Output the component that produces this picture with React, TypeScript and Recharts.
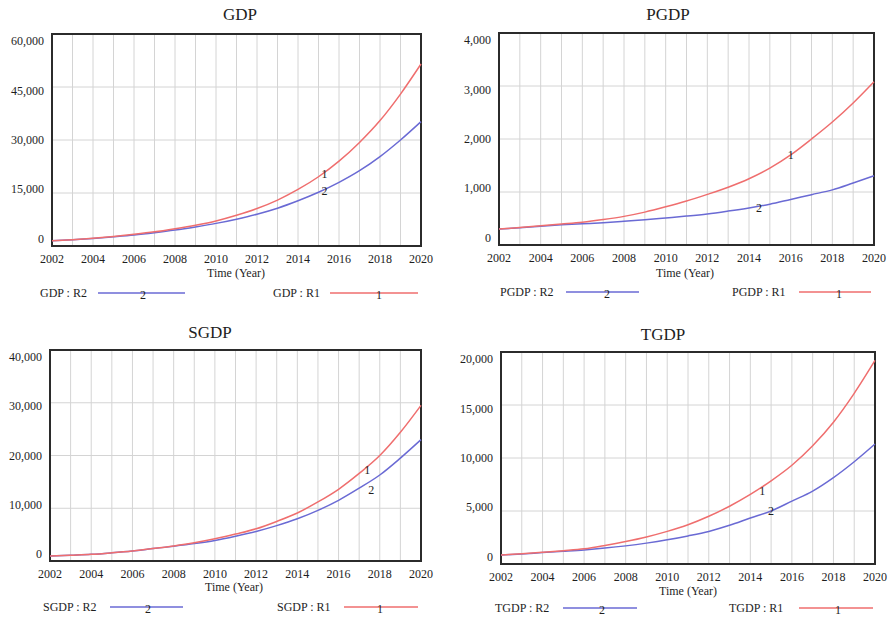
import { LineChart, Line, XAxis, YAxis, CartesianGrid, ReferenceArea, LabelList } from "recharts";

const years = [2002, 2003, 2004, 2005, 2006, 2007, 2008, 2009, 2010, 2011, 2012, 2013, 2014, 2015, 2016, 2017, 2018, 2019, 2020];

const gdpR1 = [1500, 1800, 2200, 2700, 3300, 4000, 4900, 5900, 7100, 8700, 10600, 13000, 16000, 19600, 24000, 29300, 35500, 43000, 51500];
const gdpR2 = [1500, 1800, 2150, 2600, 3100, 3750, 4500, 5400, 6400, 7600, 9000, 10700, 12800, 15200, 18000, 21300, 25300, 30000, 35200];

const pgdpR1 = [300, 330, 362, 395, 430, 480, 540, 620, 720, 830, 955, 1090, 1250, 1450, 1700, 2000, 2320, 2680, 3080];
const pgdpR2 = [300, 325, 355, 380, 400, 420, 446, 475, 510, 545, 586, 640, 700, 770, 860, 950, 1040, 1170, 1306];

const sgdpR1 = [950, 1100, 1260, 1550, 1900, 2350, 2850, 3450, 4200, 5100, 6100, 7500, 9100, 11200, 13600, 16600, 20000, 24400, 29500];
const sgdpR2 = [950, 1100, 1260, 1550, 1900, 2350, 2800, 3300, 3900, 4700, 5600, 6700, 8000, 9600, 11500, 13800, 16300, 19500, 23000];

const tgdpR1 = [850, 960, 1100, 1250, 1430, 1750, 2120, 2550, 3075, 3700, 4500, 5450, 6560, 7850, 9320, 11160, 13380, 16100, 19200];
const tgdpR2 = [850, 950, 1080, 1200, 1330, 1500, 1710, 1970, 2280, 2650, 3075, 3650, 4340, 5000, 5930, 6880, 8150, 9650, 11320];

const gdpTicks = [0, 15000, 30000, 45000, 60000];
const pgdpTicks = [0, 1000, 2000, 3000, 4000];
const sgdpTicks = [0, 10000, 20000, 30000, 40000];
const tgdpTicks = [0, 5000, 10000, 15000, 20000];

const RED = "#ef6e6e";
const BLUE = "#6a6ad4";
const FONT = "'Liberation Serif', 'Times New Roman', serif";
const TEXT = "#1e1e1e";

type Mark = { idx: number; dx: number; dy: number };

type PanelProps = {
  title: string;
  r1: number[];
  r2: number[];
  yTicks: number[];
  ox: number;
  oy: number;
  plot: { l: number; t: number; r: number; b: number };
  titlePos: [number, number];
  axisPos: [number, number];
  legendY: number;
  leg2: [number, number, number, number]; // text left, line x1, line x2, digit x
  leg1: [number, number, number, number];
  mark1: Mark;
  mark2: Mark;
};

function LegendItem({ name, y, pos, color, num }: { name: string; y: number; pos: number[]; color: string; num: string }) {
  const [tx, x1, x2, dx] = pos;
  return (
    <>
      <div style={{ position: "absolute", left: tx, top: y - 8, fontFamily: FONT, fontSize: 12, color: TEXT, lineHeight: "16px", whiteSpace: "nowrap" }}>
        {name}
      </div>
      <svg style={{ position: "absolute", left: x1, top: y - 8, overflow: "visible" }} width={x2 - x1} height={16}>
        <line x1={0} y1={8} x2={x2 - x1} y2={8} stroke={color} strokeWidth={1.5} />
        <text x={dx - x1} y={10} textAnchor="middle" dominantBaseline="central" fontFamily={FONT} fontSize={12} fill={TEXT}>
          {num}
        </text>
      </svg>
    </>
  );
}

function Panel(p: PanelProps) {
  const W = 446;
  const H = 309;
  const yw = 48;
  const xh = 26;
  const data = years.map((y, i) => ({ year: y, r1: p.r1[i], r2: p.r2[i] }));
  const margin = {
    left: p.plot.l - p.ox - yw,
    right: p.ox + W - p.plot.r,
    top: p.plot.t - p.oy,
    bottom: p.oy + H - p.plot.b - xh,
  };
  const yMax = p.yTicks[p.yTicks.length - 1];
  const mid = (p.plot.t + p.plot.b) / 2 - p.oy;

  const yTick = (t: any) => (
    <text x={t.x} y={t.y + (mid - t.y) * 0.07} textAnchor="end" dominantBaseline="central" fontFamily={FONT} fontSize={12} fill={TEXT}>
      {Number(t.payload.value).toLocaleString("en-US")}
    </text>
  );
  const xTick = (t: any) =>
    t.payload.value % 2 === 0 ? (
      <text x={t.x} y={t.y + 5} textAnchor="middle" dominantBaseline="central" fontFamily={FONT} fontSize={12} fill={TEXT}>
        {t.payload.value}
      </text>
    ) : (
      <g />
    );

  const markLabel = (series: number[], m: Mark, num: string) => (props: any) => {
    if (props.value !== series[m.idx]) return null;
    return (
      <text x={props.x + m.dx} y={props.y + m.dy} textAnchor="middle" dominantBaseline="central" fontFamily={FONT} fontSize={12} fill={TEXT}>
        {num}
      </text>
    );
  };

  return (
    <>
      <div style={{ position: "absolute", left: p.ox, top: p.oy }}>
        <LineChart width={W} height={H} data={data} margin={margin}>
          <CartesianGrid stroke="#d4d4d4" strokeWidth={1} />
          <XAxis
            dataKey="year"
            type="number"
            domain={[2002, 2020]}
            ticks={years}
            interval={0}
            tick={xTick}
            tickLine={false}
            axisLine={false}
            height={xh}
          />
          <YAxis
            type="number"
            domain={[0, yMax]}
            ticks={p.yTicks}
            interval={0}
            tick={yTick}
            tickLine={false}
            axisLine={false}
            width={yw}
          />
          <Line type="monotone" dataKey="r2" stroke={BLUE} strokeWidth={1.5} dot={false} isAnimationActive={false}>
            <LabelList dataKey="r2" content={markLabel(p.r2, p.mark2, "2")} />
          </Line>
          <Line type="monotone" dataKey="r1" stroke={RED} strokeWidth={1.5} dot={false} isAnimationActive={false}>
            <LabelList dataKey="r1" content={markLabel(p.r1, p.mark1, "1")} />
          </Line>
          <ReferenceArea x1={2002} x2={2020} y1={0} y2={yMax} fill="none" stroke="#2b2b2b" strokeWidth={2} ifOverflow="visible" />
        </LineChart>
      </div>
      <div style={{ position: "absolute", left: p.titlePos[0] - 60, top: p.titlePos[1] - 11, width: 120, textAlign: "center", fontFamily: FONT, fontSize: 17, color: TEXT, lineHeight: "22px" }}>
        {p.title}
      </div>
      <div style={{ position: "absolute", left: p.axisPos[0] - 50, top: p.axisPos[1] - 8, width: 100, textAlign: "center", fontFamily: FONT, fontSize: 12, color: TEXT, lineHeight: "16px" }}>
        Time (Year)
      </div>
      <LegendItem name={`${p.title} : R2`} y={p.legendY} pos={p.leg2} color={BLUE} num="2" />
      <LegendItem name={`${p.title} : R1`} y={p.legendY} pos={p.leg1} color={RED} num="1" />
    </>
  );
}

export default function App() {
  return (
    <div style={{ position: "absolute", left: 0, top: 0, width: 892, height: 618, background: "#fff", overflow: "hidden" }}>
      <Panel
        title="GDP"
        r1={gdpR1}
        r2={gdpR2}
        yTicks={gdpTicks}
        ox={0}
        oy={0}
        plot={{ l: 52, t: 34, r: 421, b: 246 }}
        titlePos={[240, 15]}
        axisPos={[236, 273]}
        legendY={293}
        leg2={[40, 98, 185, 143]}
        leg1={[273, 330, 418, 379]}
        mark1={{ idx: 13, dx: 6, dy: -3 }}
        mark2={{ idx: 13, dx: 6, dy: -1 }}
      />
      <Panel
        title="PGDP"
        r1={pgdpR1}
        r2={pgdpR2}
        yTicks={pgdpTicks}
        ox={446}
        oy={0}
        plot={{ l: 499, t: 33, r: 874, b: 245 }}
        titlePos={[668, 15]}
        axisPos={[685, 273]}
        legendY={292}
        leg2={[500, 566, 639, 607]}
        leg1={[732, 799, 871, 839]}
        mark1={{ idx: 14, dx: 0, dy: 0 }}
        mark2={{ idx: 12, dx: 10, dy: 0 }}
      />
      <Panel
        title="SGDP"
        r1={sgdpR1}
        r2={sgdpR2}
        yTicks={sgdpTicks}
        ox={0}
        oy={309}
        plot={{ l: 50, t: 350, r: 421, b: 561 }}
        titlePos={[210, 333]}
        axisPos={[234, 587]}
        legendY={607}
        leg2={[43, 110, 183, 148]}
        leg1={[277, 344, 418, 380]}
        mark1={{ idx: 15, dx: 8, dy: -3 }}
        mark2={{ idx: 15, dx: 12, dy: 2 }}
      />
      <Panel
        title="TGDP"
        r1={tgdpR1}
        r2={tgdpR2}
        yTicks={tgdpTicks}
        ox={446}
        oy={309}
        plot={{ l: 501, t: 352, r: 875, b: 564 }}
        titlePos={[663, 335]}
        axisPos={[688, 591]}
        legendY={608}
        leg2={[495, 563, 637, 602]}
        leg1={[729, 799, 873, 838]}
        mark1={{ idx: 12, dx: 12, dy: -3 }}
        mark2={{ idx: 13, dx: 0, dy: 0 }}
      />
    </div>
  );
}
